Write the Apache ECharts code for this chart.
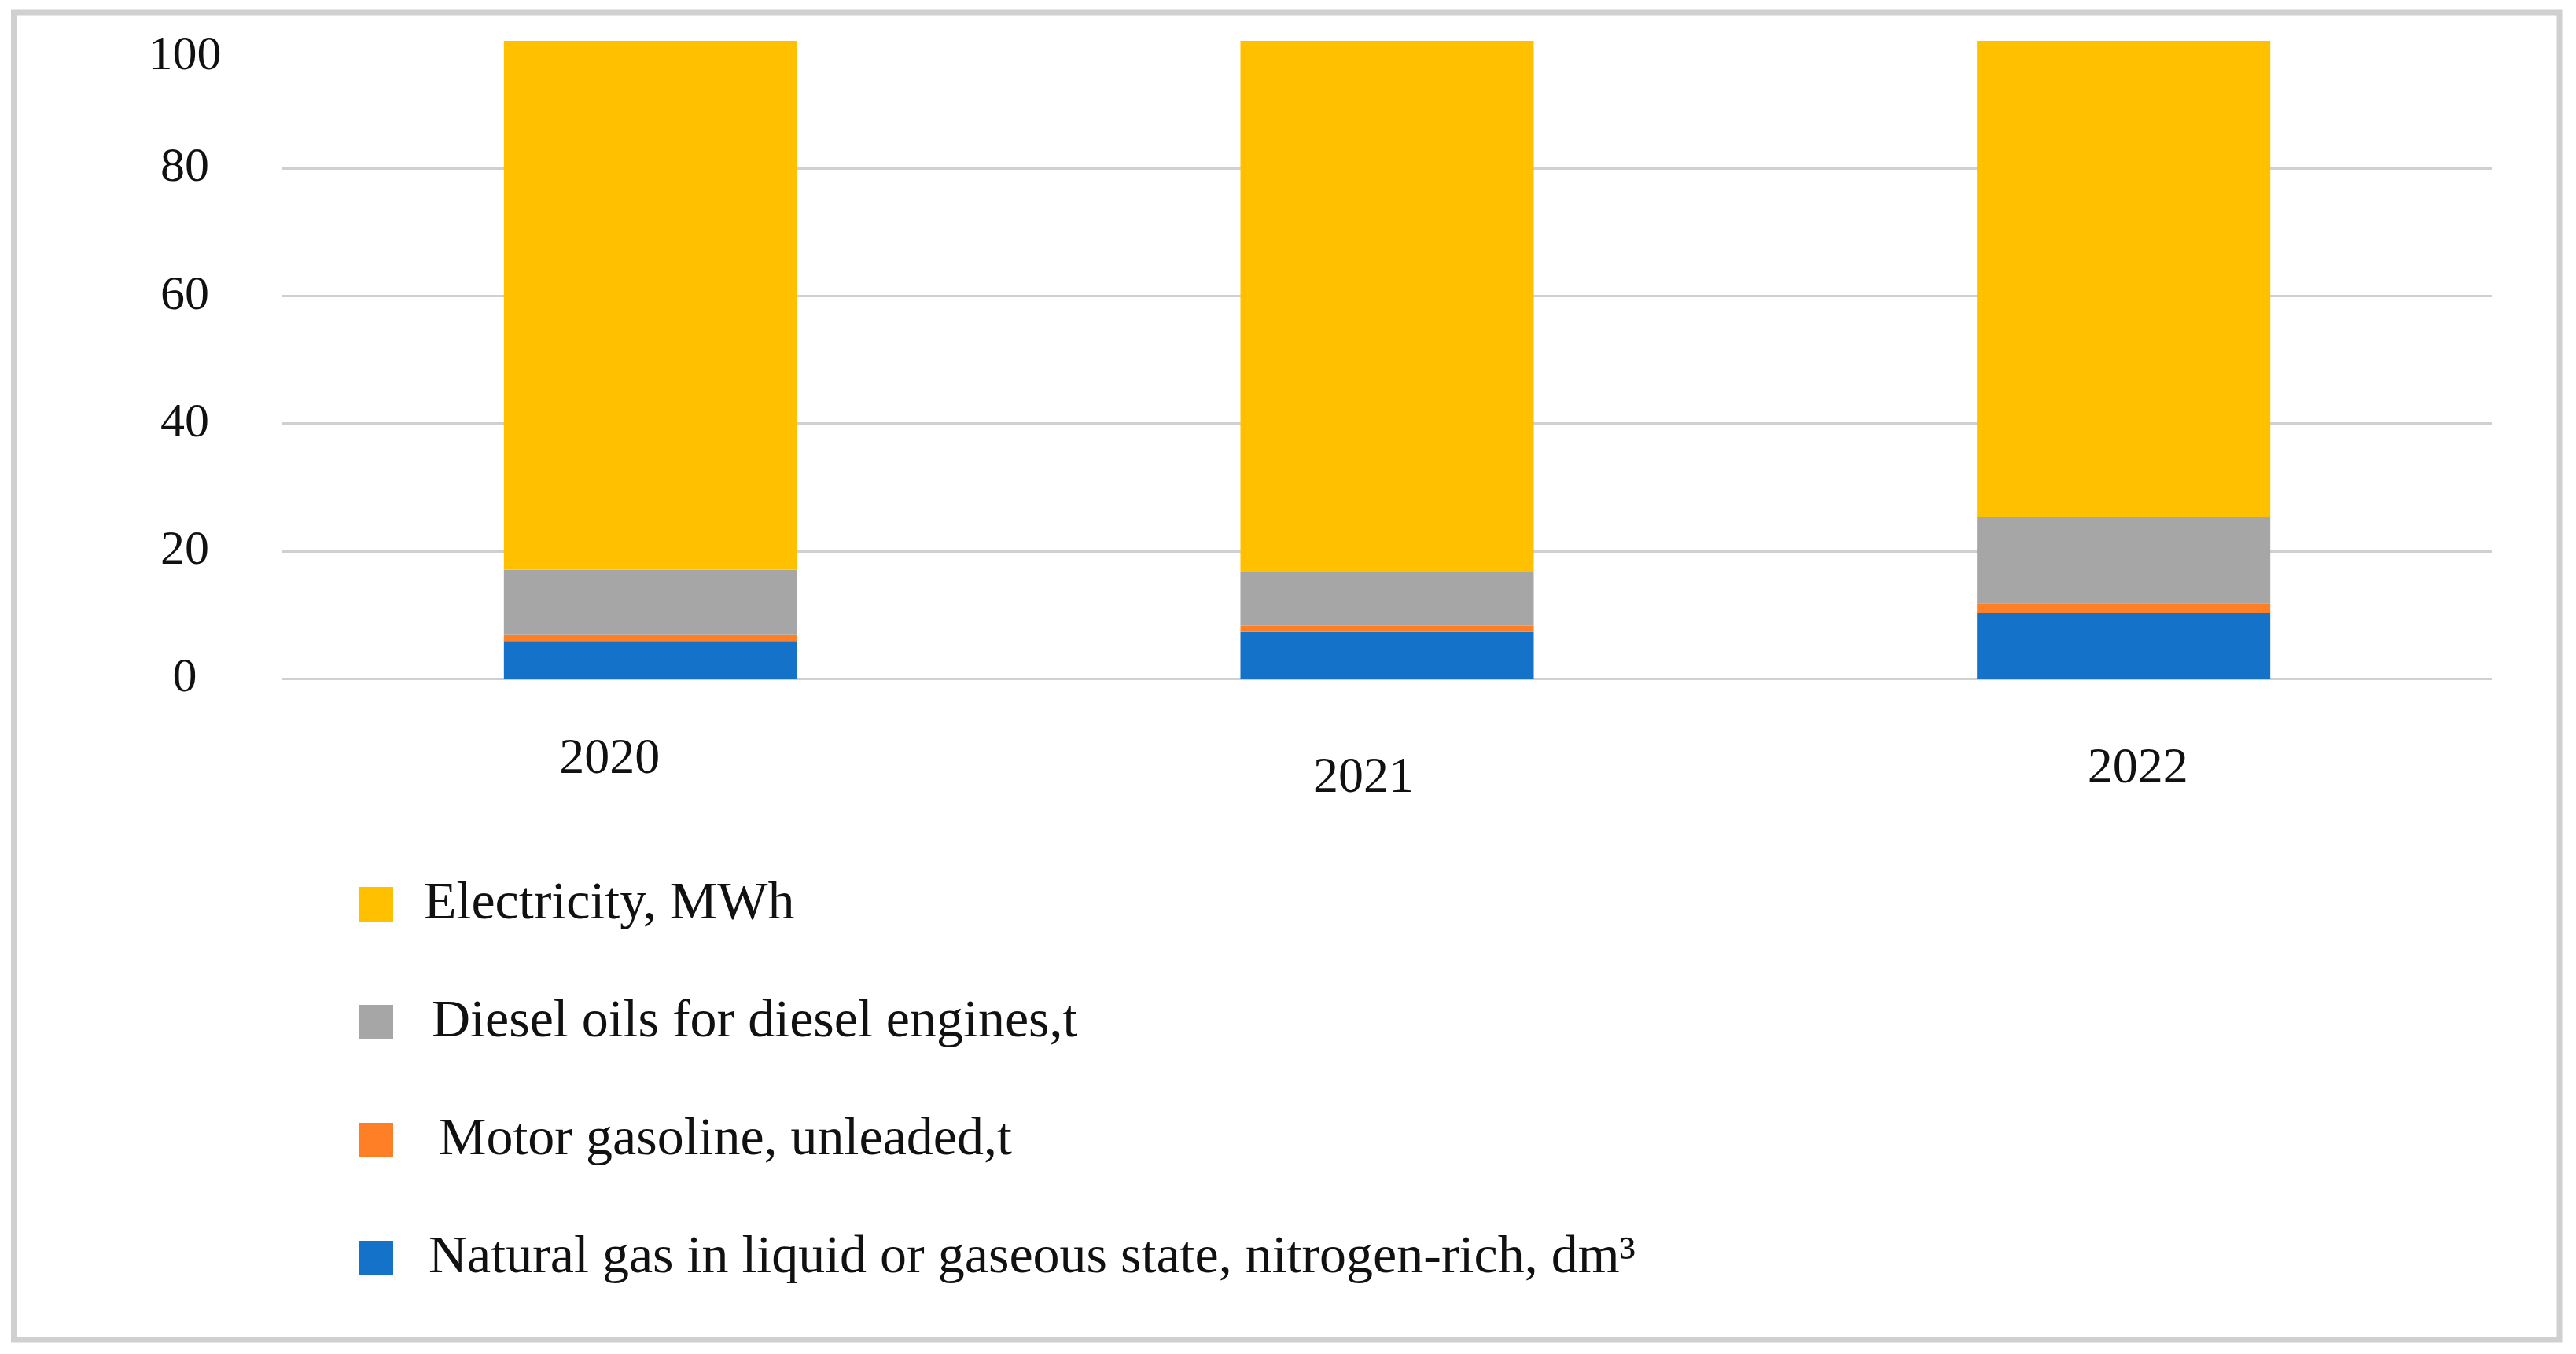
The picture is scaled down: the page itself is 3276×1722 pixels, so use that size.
<!DOCTYPE html>
<html>
<head>
<meta charset="utf-8">
<script src="https://cdn.jsdelivr.net/npm/echarts@6/dist/echarts.min.js"></script>
<style>
html,body{margin:0;padding:0;background:#fff;}
#chart{width:3276px;height:1722px;}
</style>
</head>
<body>
<div id="chart"></div>
<script>
var categories = ['2020', '2021', '2022'];
var naturalGas = [5.9, 7.3, 10.3];
var gasoline = [1.05, 1.0, 1.5];
var diesel = [10.1, 8.35, 13.6];
var electricity = [82.95, 83.35, 74.6];
var yTicks = [0, 20, 40, 60, 80, 100];

var seriesNames = [
  'Natural gas in liquid or gaseous state, nitrogen-rich, dm\u00B3',
  'Motor gasoline, unleaded,t',
  'Diesel oils for diesel engines,t',
  'Electricity, MWh'
];
var legendNames = [
  'Electricity, MWh',
  'Diesel oils for diesel engines,t',
  'Motor gasoline, unleaded,t',
  'Natural gas in liquid or gaseous state, nitrogen-rich, dm\u00B3'
];
var colors = ['#1472C8', '#FF7F27', '#A6A6A6', '#FFC000'];
var seriesData = [naturalGas, gasoline, diesel, electricity];

var font = '"Liberation Serif", "Times New Roman", serif';

// per-label fine placement of the year labels
var labelPads = [[0, 104, 0, 0], [24, 60, 0, 0], [12, 0, 0, 36]];
var xData = categories.map(function (c, i) {
  return { value: c, textStyle: { padding: labelPads[i] } };
});
var legendPads = [34, 44, 53, 40];
var legendData = legendNames.map(function (n, i) {
  return { name: n, textStyle: { padding: [0, 0, 0, legendPads[i]] } };
});

var chart = echarts.init(document.getElementById('chart'), null, { renderer: 'canvas' });
var option = {
  backgroundColor: '#ffffff',
  animation: false,
  color: colors,
  grid: { left: 359, right: 107, top: 52, bottom: 859, containLabel: false },
  graphic: [{
    type: 'rect',
    shape: { x: 17.5, y: 16, width: 3237.5, height: 1688 },
    style: { fill: 'none', stroke: '#D0D0D0', lineWidth: 7 },
    silent: true
  }],
  legend: {
    orient: 'vertical',
    left: 451,
    top: 1111,
    itemWidth: 44,
    itemHeight: 44,
    itemGap: 82,
    icon: 'rect',
    data: legendData,
    textStyle: {
      fontFamily: font,
      fontSize: 68,
      lineHeight: 68,
      color: '#111111'
    }
  },
  xAxis: {
    type: 'category',
    data: xData,
    axisLine: { show: false },
    axisTick: { show: false },
    axisLabel: {
      margin: 71,
      fontFamily: font,
      fontSize: 64,
      color: '#111111'
    }
  },
  yAxis: {
    type: 'value',
    min: yTicks[0],
    max: yTicks[yTicks.length - 1],
    interval: 20,
    axisLine: { show: false },
    axisTick: { show: false },
    splitLine: {
      show: true,
      showMaxLine: false,
      lineStyle: { color: '#D0D0D0', width: 3 }
    },
    axisLabel: {
      margin: 124,
      align: 'center',
      fontFamily: font,
      fontSize: 62,
      color: '#111111',
      formatter: function (v) { return v === 100 ? '{top|100}' : String(v); },
      rich: {
        top: { fontFamily: font, fontSize: 62, color: '#111111', padding: [40, 0, 0, 0] }
      }
    }
  },
  series: seriesNames.map(function (name, i) {
    return {
      name: name,
      type: 'bar',
      stack: 'total',
      barWidth: 373,
      data: seriesData[i],
      itemStyle: { color: colors[i] }
    };
  })
};
chart.setOption(option);
</script>
</body>
</html>
